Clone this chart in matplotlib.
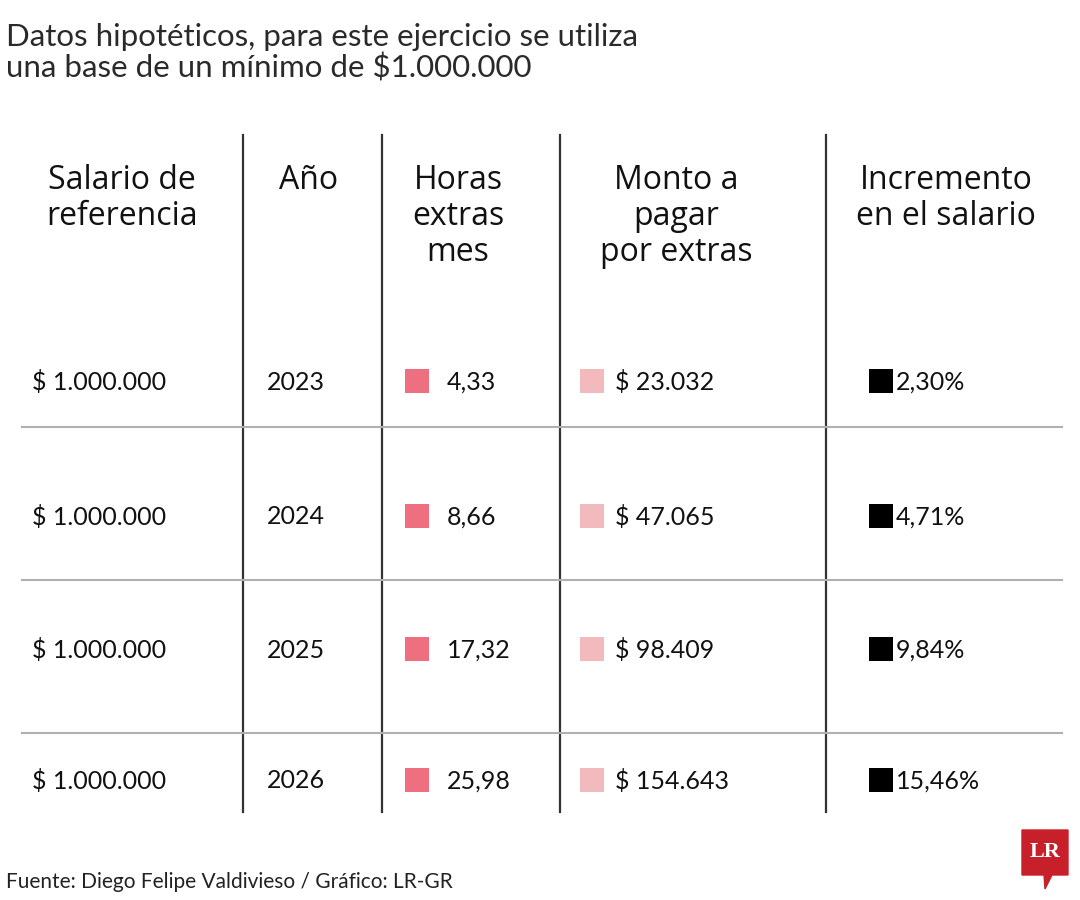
import matplotlib
matplotlib.use("Agg")
from matplotlib import pyplot as plt
from matplotlib.patches import Polygon

# data
salario = ["$ 1.000.000", "$ 1.000.000", "$ 1.000.000", "$ 1.000.000"]
anios = ["2023", "2024", "2025", "2026"]
horas = ["4,33", "8,66", "17,32", "25,98"]
monto = ["$ 23.032", "$ 47.065", "$ 98.409", "$ 154.643"]
incremento = ["2,30%", "4,71%", "9,84%", "15,46%"]
headers = ["Salario de\nreferencia", "Año", "Horas\nextras\nmes", "Monto a\npagar\npor extras",
           "Incremento\nen el salario"]

title = "Datos hipotéticos, para este ejercicio se utiliza\nuna base de un mínimo de $1.000.000"
source = "Fuente: Diego Felipe Valdivieso / Gráfico: LR-GR"

PINK = "#ee6f80"
LIGHT_PINK = "#f3babe"

TITLE_FONT = ["Lato", "DejaVu Sans"]
HEAD_FONT = ["Open Sans", "DejaVu Sans"]
CELL_FONT = ["Lato", "DejaVu Sans"]

fig = plt.figure(figsize=(10.8, 9), dpi=100)
ax = fig.add_axes([0, 0, 1, 1])
ax.set_xlim(0, 1080)
ax.set_ylim(900, 0)
ax.axis("off")

# title
ax.text(6, 53, title, fontsize=22.5, family=TITLE_FONT, fontweight="normal",
        color="#2a2a2a", va="center", ha="left", linespacing=1.12)

# grid lines
vlines = [243, 382, 560, 826]
for x in vlines:
    ax.plot([x, x], [135, 812], color="#333333", lw=1.6)
for y in [427, 580, 733]:
    ax.plot([22, 1062], [y, y], color="#b0b0b0", lw=1.5)

# headers
head_x = [122, 309, 458, 676, 946]
for x, h in zip(head_x, headers):
    ax.text(x, 164, h, fontsize=23, family=HEAD_FONT, ha="center", va="top",
            color="#111111", linespacing=1.12)

# rows
row_y = [382, 517, 650, 781]
cell = dict(fontsize=18, family=CELL_FONT, ha="left", va="center", color="#111111")
for i, y in enumerate(row_y):
    ax.text(32, y, salario[i], **cell)
    ax.text(267, y, anios[i], **cell)
    ax.scatter([417], [y - 1], marker="s", s=300, color=PINK, linewidths=0)
    ax.text(447, y, horas[i], **cell)
    ax.scatter([592], [y - 1], marker="s", s=300, color=LIGHT_PINK, linewidths=0)
    ax.text(615, y, monto[i], **cell)
    ax.scatter([881], [y - 1], marker="s", s=290, color="black", linewidths=0)
    ax.text(896, y, incremento[i], **cell)

# footer
ax.text(6, 882, source, fontsize=15, family=CELL_FONT, ha="left", va="center", color="#222222")

# LR logo
logo = Polygon([[1022, 830], [1068, 830], [1068, 875], [1052, 875], [1045, 889], [1044, 875], [1022, 875]],
               closed=True, color="#c8202a")
ax.add_patch(logo)
ax.text(1045, 852, "LR", fontsize=16, family=["Liberation Serif", "DejaVu Serif"], fontweight="bold",
        color="white", ha="center", va="center")

fig.savefig("out.png", dpi=100)
